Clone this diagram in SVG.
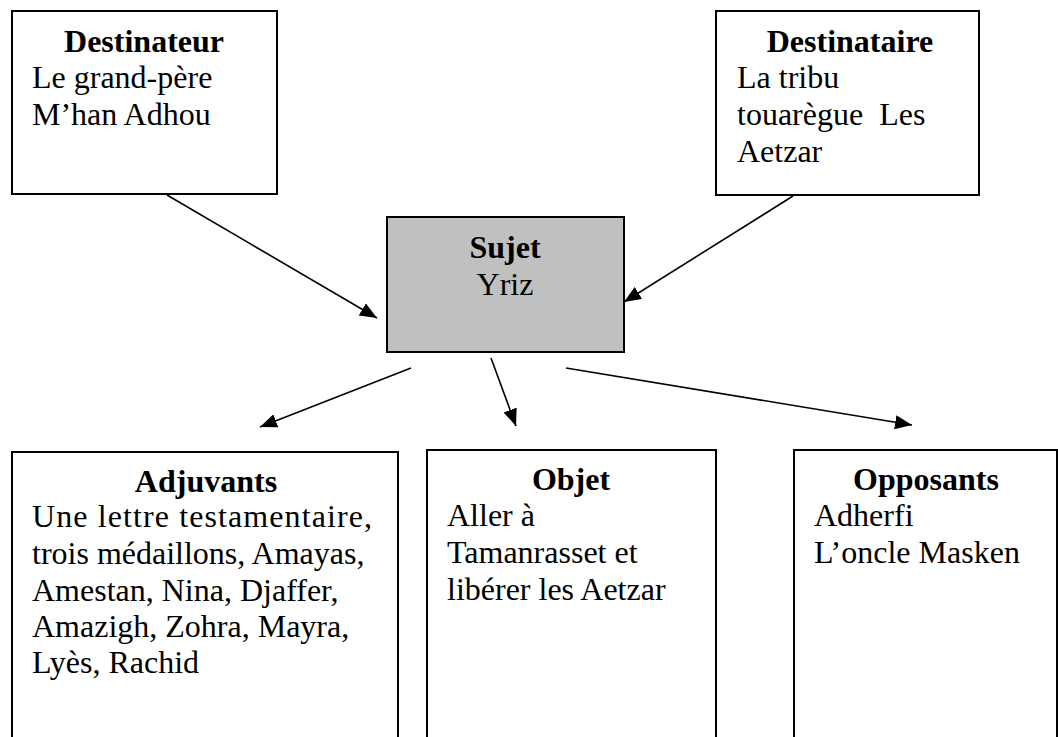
<svg xmlns="http://www.w3.org/2000/svg" width="1058" height="737" viewBox="0 0 1058 737">
<defs>
<style>
.box{fill:#fff;stroke:#000;stroke-width:2}
.subj{fill:#c0c0c0;stroke:#000;stroke-width:2}
.t{font-family:"Liberation Serif","Times New Roman",serif;font-size:32px;fill:#000}
.h{font-weight:bold;text-anchor:middle}
.edge{stroke:#000;stroke-width:1.6;fill:none;marker-end:url(#ah)}
</style>
<marker id="ah" markerUnits="userSpaceOnUse" markerWidth="18" markerHeight="14" refX="17" refY="7" orient="auto">
<path d="M0,0 L17,7 L0,14 Z" fill="#000"/>
</marker>
</defs>
<rect width="1058" height="737" fill="#fff"/>
<g id="destinateur">
<rect class="box" x="12" y="11" width="265" height="183"/>
<text class="t h" x="144" y="52">Destinateur</text>
<text class="t" x="32" y="88">Le grand-père</text>
<text class="t" x="32" y="125">M’han Adhou</text>
</g>
<g id="destinataire">
<rect class="box" x="716" y="11" width="263" height="184"/>
<text class="t h" x="850" y="52">Destinataire</text>
<text class="t" x="737" y="88">La tribu</text>
<text class="t" x="737" y="125" xml:space="preserve">touarègue  Les</text>
<text class="t" x="737" y="162">Aetzar</text>
</g>
<g id="sujet">
<rect class="subj" x="387" y="217" width="237" height="135"/>
<text class="t h" x="505" y="258">Sujet</text>
<text class="t" x="505" y="295" text-anchor="middle">Yriz</text>
</g>
<g id="adjuvants">
<rect class="box" x="12" y="452" width="386" height="295"/>
<text class="t h" x="206" y="492">Adjuvants</text>
<text class="t" x="32" y="527" textLength="340" lengthAdjust="spacing">Une lettre testamentaire,</text>
<text class="t" x="32" y="564">trois médaillons, Amayas,</text>
<text class="t" x="32" y="601">Amestan, Nina, Djaffer,</text>
<text class="t" x="32" y="637">Amazigh, Zohra, Mayra,</text>
<text class="t" x="32" y="673">Lyès, Rachid</text>
</g>
<g id="objet">
<rect class="box" x="427" y="450" width="289" height="297"/>
<text class="t h" x="571" y="490">Objet</text>
<text class="t" x="447" y="526">Aller à</text>
<text class="t" x="447" y="563">Tamanrasset et</text>
<text class="t" x="447" y="600">libérer les Aetzar</text>
</g>
<g id="opposants">
<rect class="box" x="794" y="450" width="263" height="297"/>
<text class="t h" x="926" y="490">Opposants</text>
<text class="t" x="814" y="526">Adherfi</text>
<text class="t" x="814" y="563">L’oncle Masken</text>
</g>
<g id="connectors">
<line class="edge" x1="167" y1="195" x2="377" y2="318"/>
<line class="edge" x1="793" y1="196" x2="624" y2="302"/>
<line class="edge" x1="411" y1="368" x2="260" y2="427"/>
<line class="edge" x1="491" y1="358" x2="516" y2="426"/>
<line class="edge" x1="566" y1="368" x2="912" y2="425"/>
</g>
</svg>
